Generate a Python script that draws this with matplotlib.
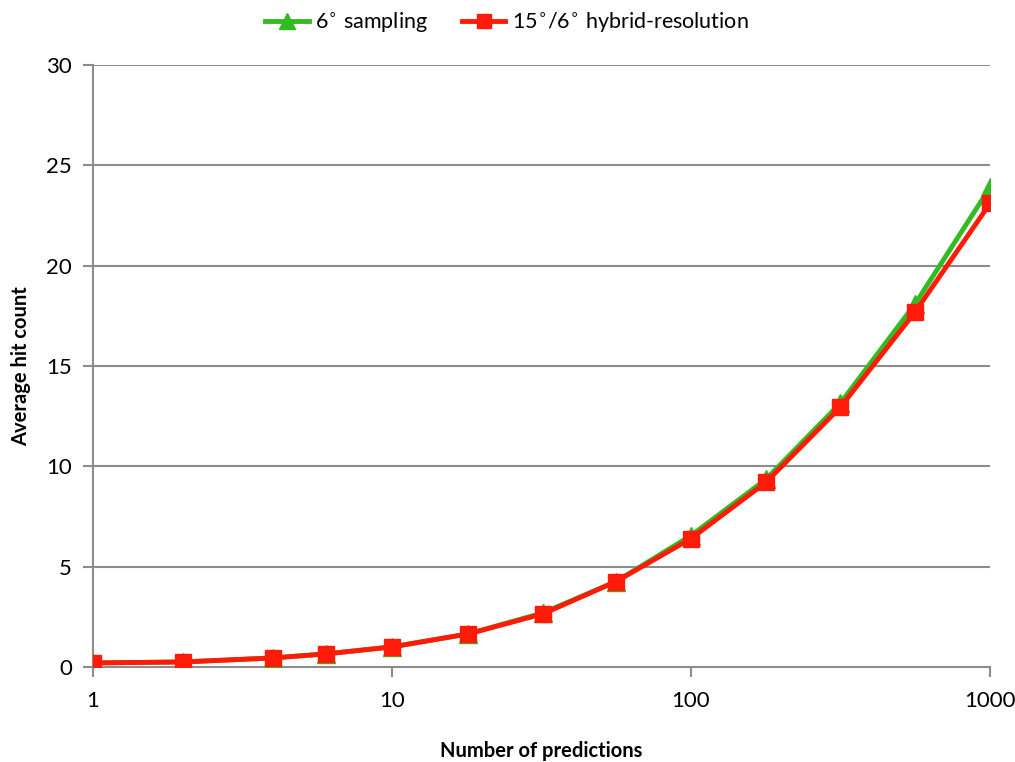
import matplotlib
matplotlib.use('Agg')
import matplotlib.pyplot as plt
from matplotlib.ticker import FixedLocator, FixedFormatter, NullLocator

plt.rcParams['font.family'] = ['Lato', 'DejaVu Sans']

# data
n_pred = [1, 2, 4, 6, 10, 18, 32, 56, 100, 178, 316, 562, 1000]
hits_6deg = [0.2, 0.25, 0.45, 0.65, 1.0, 1.65, 2.7, 4.25, 6.55, 9.35, 13.15, 18.1, 23.9]
hits_hybrid = [0.2, 0.25, 0.45, 0.65, 1.0, 1.65, 2.65, 4.25, 6.4, 9.2, 12.95, 17.7, 23.1]
x_ticks = [1, 10, 100, 1000]
y_ticks = [0, 5, 10, 15, 20, 25, 30]

fig = plt.figure(figsize=(10.15, 7.62), dpi=100)
ax = fig.add_axes([0.0916, 0.1247, 0.8838, 0.79])

ax.plot(n_pred, hits_6deg, color='#33bb22', lw=3.5, marker='^', ms=13,
        label='6$^{\\circ}$ sampling', zorder=3)
ax.plot(n_pred, hits_hybrid, color='#ff1a0a', lw=3.5, marker='s', ms=12,
        label='15$^{\\circ}$/6$^{\\circ}$ hybrid-resolution', zorder=4)

ax.set_xscale('log')
ax.set_xlim(1, 1000)
ax.set_ylim(0, 30)
ax.xaxis.set_major_locator(FixedLocator(x_ticks))
ax.xaxis.set_major_formatter(FixedFormatter([str(t) for t in x_ticks]))
ax.xaxis.set_minor_locator(NullLocator())
ax.set_yticks(y_ticks)

for y in y_ticks[1:]:
    ax.axhline(y, color='#8c8c8c', lw=1.5, zorder=1)

for s in ['top', 'right']:
    ax.spines[s].set_visible(False)
for s in ['left', 'bottom']:
    ax.spines[s].set_color('#8c8c8c')
    ax.spines[s].set_linewidth(1.5)

ax.tick_params(axis='y', direction='out', length=7, width=1.5, color='#8c8c8c',
               labelsize=16, pad=8)
ax.tick_params(axis='x', direction='out', length=7, width=1.5, color='#8c8c8c',
               labelsize=16, pad=10)

ax.set_xlabel('Number of predictions', fontsize=14.5, fontweight='bold', labelpad=22)
ax.set_ylabel('Average hit count', fontsize=14.5, fontweight='bold', labelpad=11)

ax.legend(loc='center', bbox_to_anchor=(0.4615, 1.07), ncol=2, frameon=False,
          fontsize=15.5, handlelength=2.0, columnspacing=1.6, handletextpad=0.3,
          markerscale=0.85)

fig.savefig('out.png', dpi=100)
